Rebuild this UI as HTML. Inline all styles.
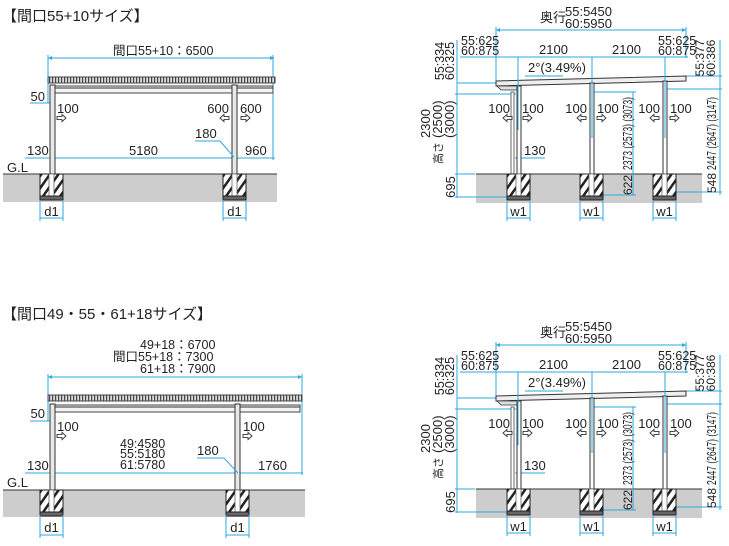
<!DOCTYPE html>
<html><head><meta charset="utf-8"><style>
html,body{margin:0;padding:0;background:#fff;width:729px;height:546px;overflow:hidden}
svg{display:block}
text{font-family:"Liberation Sans","Noto Sans CJK JP",sans-serif;fill:#222}
.c{stroke:#2ea7e0;stroke-width:1;fill:none}
.k{stroke:#333;stroke-width:1;fill:none}
</style></head><body>
<svg width="729" height="546" viewBox="0 0 729 546" font-size="12" xmlns="http://www.w3.org/2000/svg">
<defs>
<pattern id="slat" width="3" height="8" patternUnits="userSpaceOnUse"><rect width="3" height="8" fill="#ddd"/><rect x="1" width="1.2" height="8" fill="#444"/></pattern>
<pattern id="hatch" width="7" height="7" patternUnits="userSpaceOnUse" patternTransform="rotate(35)"><rect width="7" height="7" fill="#fff"/><rect width="2.5" height="7" fill="#222"/></pattern>
<g id="foot"><rect x="0" y="0" width="23" height="26" fill="url(#hatch)" stroke="#222"/><rect x="9" y="0" width="5" height="22" fill="#fff" stroke="#555" stroke-width=".7"/><rect x="0" y="22" width="23" height="4" fill="#666" stroke="#222"/></g>
<g id="ar"><polygon points="0,-1.6 5,-1.6 5,-3.6 9,0 5,3.6 5,1.6 0,1.6" fill="#fff" stroke="#333" stroke-width=".9"/></g>
<g id="al"><polygon points="9,-1.6 4,-1.6 4,-3.6 0,0 4,3.6 4,1.6 9,1.6" fill="#fff" stroke="#333" stroke-width=".9"/></g>
</defs>

<!-- ========== UPPER LEFT ========== -->
<text x="2" y="21" font-size="15">【間口55+10サイズ】</text>
<text x="113" y="55" font-size="12.5">間口55+10：6500</text>
<path class="c" d="M48 58H274M48 55V85M273 55V160M25 158H275M30 103H50M48 85V103"/>
<path d="M48 58l4-2v4zM274 58l-4-2v4z" fill="#2ea7e0"/>
<rect x="48" y="77" width="227" height="6" fill="url(#slat)" stroke="#444"/>
<rect x="53" y="86" width="220" height="7" fill="#f4f4f4" stroke="#444"/>
<path class="k" d="M53 88H273"/>
<rect x="50" y="85" width="5" height="89" fill="#e8e8e8" stroke="#333"/>
<rect x="232" y="85" width="5" height="89" fill="#e8e8e8" stroke="#333"/>
<text x="45" y="101" text-anchor="end" font-size="13">50</text>
<text x="57" y="113" font-size="13">100</text><use href="#ar" x="57" y="118"/>
<text x="229" y="113" text-anchor="end" font-size="13">600</text><use href="#al" x="220" y="118"/>
<text x="240" y="113" font-size="13">600</text><use href="#ar" x="241" y="118"/>
<text x="195" y="138" font-size="13">180</text>
<path class="c" d="M195 141H220L234 157"/>
<text x="27" y="155" font-size="13">130</text>
<text x="129" y="155" font-size="13">5180</text>
<text x="245" y="155" font-size="13">960</text>
<rect x="3" y="174" width="274" height="28" fill="#cdcdcd"/>
<path class="k" d="M3 174H277"/>
<text x="7" y="172" font-size="13">G.L</text>
<use href="#foot" x="40" y="174"/><use href="#foot" x="223" y="174"/>
<path class="c" d="M40 200V221M63 200V221M40 218H63M223 200V221M246 200V221M223 218H246"/>
<text x="51.5" y="216" text-anchor="middle" font-size="13">d1</text>
<text x="234.5" y="216" text-anchor="middle" font-size="13">d1</text>

<!-- ========== LOWER LEFT ========== -->
<text x="2" y="319" font-size="15">【間口49・55・61+18サイズ】</text>
<text x="140" y="349" font-size="12.5">49+18：6700</text>
<text x="113" y="361" font-size="12.5">間口55+18：7300</text>
<text x="140" y="373" font-size="12.5">61+18：7900</text>
<path class="c" d="M48 377H302M48 374V400M302 374V475M25 473H303M30 421H50M48 400V421"/>
<path d="M48 377l4-2v4zM302 377l-4-2v4z" fill="#2ea7e0"/>
<rect x="48" y="395" width="254" height="6" fill="url(#slat)" stroke="#444"/>
<rect x="53" y="405" width="247" height="7" fill="#f4f4f4" stroke="#444"/>
<path class="k" d="M53 407H300"/>
<rect x="50" y="404" width="5" height="86" fill="#e8e8e8" stroke="#333"/>
<rect x="235" y="404" width="5" height="86" fill="#e8e8e8" stroke="#333"/>
<text x="45" y="418" text-anchor="end" font-size="13">50</text>
<text x="57" y="431" font-size="13">100</text><use href="#ar" x="57" y="436"/>
<text x="243" y="431" font-size="13">100</text><use href="#ar" x="243" y="436"/>
<text x="120" y="448" font-size="12.5">49:4580</text>
<text x="120" y="458" font-size="12.5">55:5180</text>
<text x="120" y="469" font-size="12.5">61:5780</text>
<text x="197" y="455" font-size="13">180</text>
<path class="c" d="M197 458H224L238 473"/>
<text x="27" y="470" font-size="13">130</text>
<text x="258" y="470" font-size="13">1760</text>
<rect x="3" y="490" width="302" height="27" fill="#cdcdcd"/>
<path class="k" d="M3 490H305"/>
<text x="7" y="487" font-size="13">G.L</text>
<use href="#foot" x="40" y="490"/><use href="#foot" x="226" y="490"/>
<path class="c" d="M40 515V538M63 515V538M40 535H63M226 515V538M249 515V538M226 535H249"/>
<text x="51.5" y="532" text-anchor="middle" font-size="13">d1</text>
<text x="237.5" y="532" text-anchor="middle" font-size="13">d1</text>

<!-- ========== RIGHT DIAGRAM (upper) ========== -->
<g id="R">
<rect x="476" y="174" width="226" height="29" fill="#cdcdcd"/>
<path class="k" d="M476 174H702"/>
<text x="540" y="22" font-size="13">奥行</text>
<text x="565" y="16" font-size="13">55:5450</text>
<text x="565" y="28" font-size="13">60:5950</text>
<path class="c" d="M496 30H686M496 27V84M686 27V58M460 57H688M457 83H496M686 76H722M720 40V195M457 40V198M455 94H516M455 174H475M455 197H508M593 92H636M633 92V195M590 195H636M667 89H722M675 192H722M515 158H545M525 76H563"/>
<path d="M496 30l4-2v4zM686 30l-4-2v4z" fill="#2ea7e0"/>
<text x="461" y="45" font-size="12.5">55:625</text><text x="461" y="55" font-size="12.5">60:875</text>
<text x="658" y="45" font-size="12.5">55:625</text><text x="658" y="55" font-size="12.5">60:875</text>
<text x="539" y="54" font-size="13">2100</text>
<text x="612" y="54" font-size="13">2100</text>
<text x="528" y="72" font-size="13">2°(3.49%)</text>
<text transform="translate(444,61) rotate(-90)" text-anchor="middle" font-size="12.5">55:334</text>
<text transform="translate(454,61) rotate(-90)" text-anchor="middle" font-size="12.5">60:325</text>
<text transform="translate(704,58) rotate(-90)" text-anchor="middle" font-size="12">55:377</text>
<text transform="translate(715,58) rotate(-90)" text-anchor="middle" font-size="12">60:386</text>
<text transform="translate(430,138) rotate(-90)" font-size="13">2300</text>
<text transform="translate(442,138) rotate(-90)" font-size="13">(2500)</text>
<text transform="translate(454,138) rotate(-90)" font-size="13">(3000)</text>
<text transform="translate(442,164) rotate(-90)" font-size="11">高さ</text>
<text transform="translate(455,187) rotate(-90)" text-anchor="middle" font-size="13">695</text>
<text transform="translate(632,170) rotate(-90)" font-size="12.5" textLength="73" lengthAdjust="spacingAndGlyphs">2373 (2573) (3073)</text>
<text transform="translate(632,195) rotate(-90)" font-size="12">622</text>
<text transform="translate(716,170) rotate(-90)" font-size="12.5" textLength="73" lengthAdjust="spacingAndGlyphs">2447 (2647) (3147)</text>
<text transform="translate(716,193) rotate(-90)" font-size="12">548</text>
<polygon points="496,81 686,76 686,81 496,86" fill="#eee" stroke="#333"/>
<path d="M497 86h22v4h-18z" fill="#ddd" stroke="#333" stroke-width=".8"/>
<rect x="511" y="92" width="3" height="82" fill="#fff" stroke="#444" stroke-width=".8"/>
<rect x="517" y="86" width="4" height="89" fill="#fff" stroke="#333"/>
<rect x="590" y="83" width="4" height="92" fill="#fff" stroke="#333"/>
<rect x="663" y="81" width="4" height="94" fill="#fff" stroke="#333"/>
<use href="#foot" x="507" y="174"/><use href="#foot" x="580" y="174"/><use href="#foot" x="653" y="174"/>
<path class="c" d="M518 57V130M592 57V138M665 57V138"/>
<text x="510" y="113" text-anchor="end" font-size="13">100</text><use href="#al" x="503" y="118"/>
<text x="522" y="113" font-size="13">100</text><use href="#ar" x="523" y="118"/>
<text x="587" y="113" text-anchor="end" font-size="13">100</text><use href="#al" x="577" y="118"/>
<text x="597" y="113" font-size="13">100</text><use href="#ar" x="597" y="118"/>
<text x="660" y="113" text-anchor="end" font-size="13">100</text><use href="#al" x="650" y="118"/>
<text x="670" y="113" font-size="13">100</text><use href="#ar" x="670" y="118"/>
<text x="524" y="155" font-size="13">130</text>
<path class="c" d="M507 200V221M530 200V221M507 218H530M580 200V221M603 200V221M580 218H603M653 200V221M676 200V221M653 218H676"/>
<text x="518.5" y="216" text-anchor="middle" font-size="13">w1</text>
<text x="591.5" y="216" text-anchor="middle" font-size="13">w1</text>
<text x="664.5" y="216" text-anchor="middle" font-size="13">w1</text>
</g>
<use href="#R" x="0" y="315"/>
</svg>
</body></html>
